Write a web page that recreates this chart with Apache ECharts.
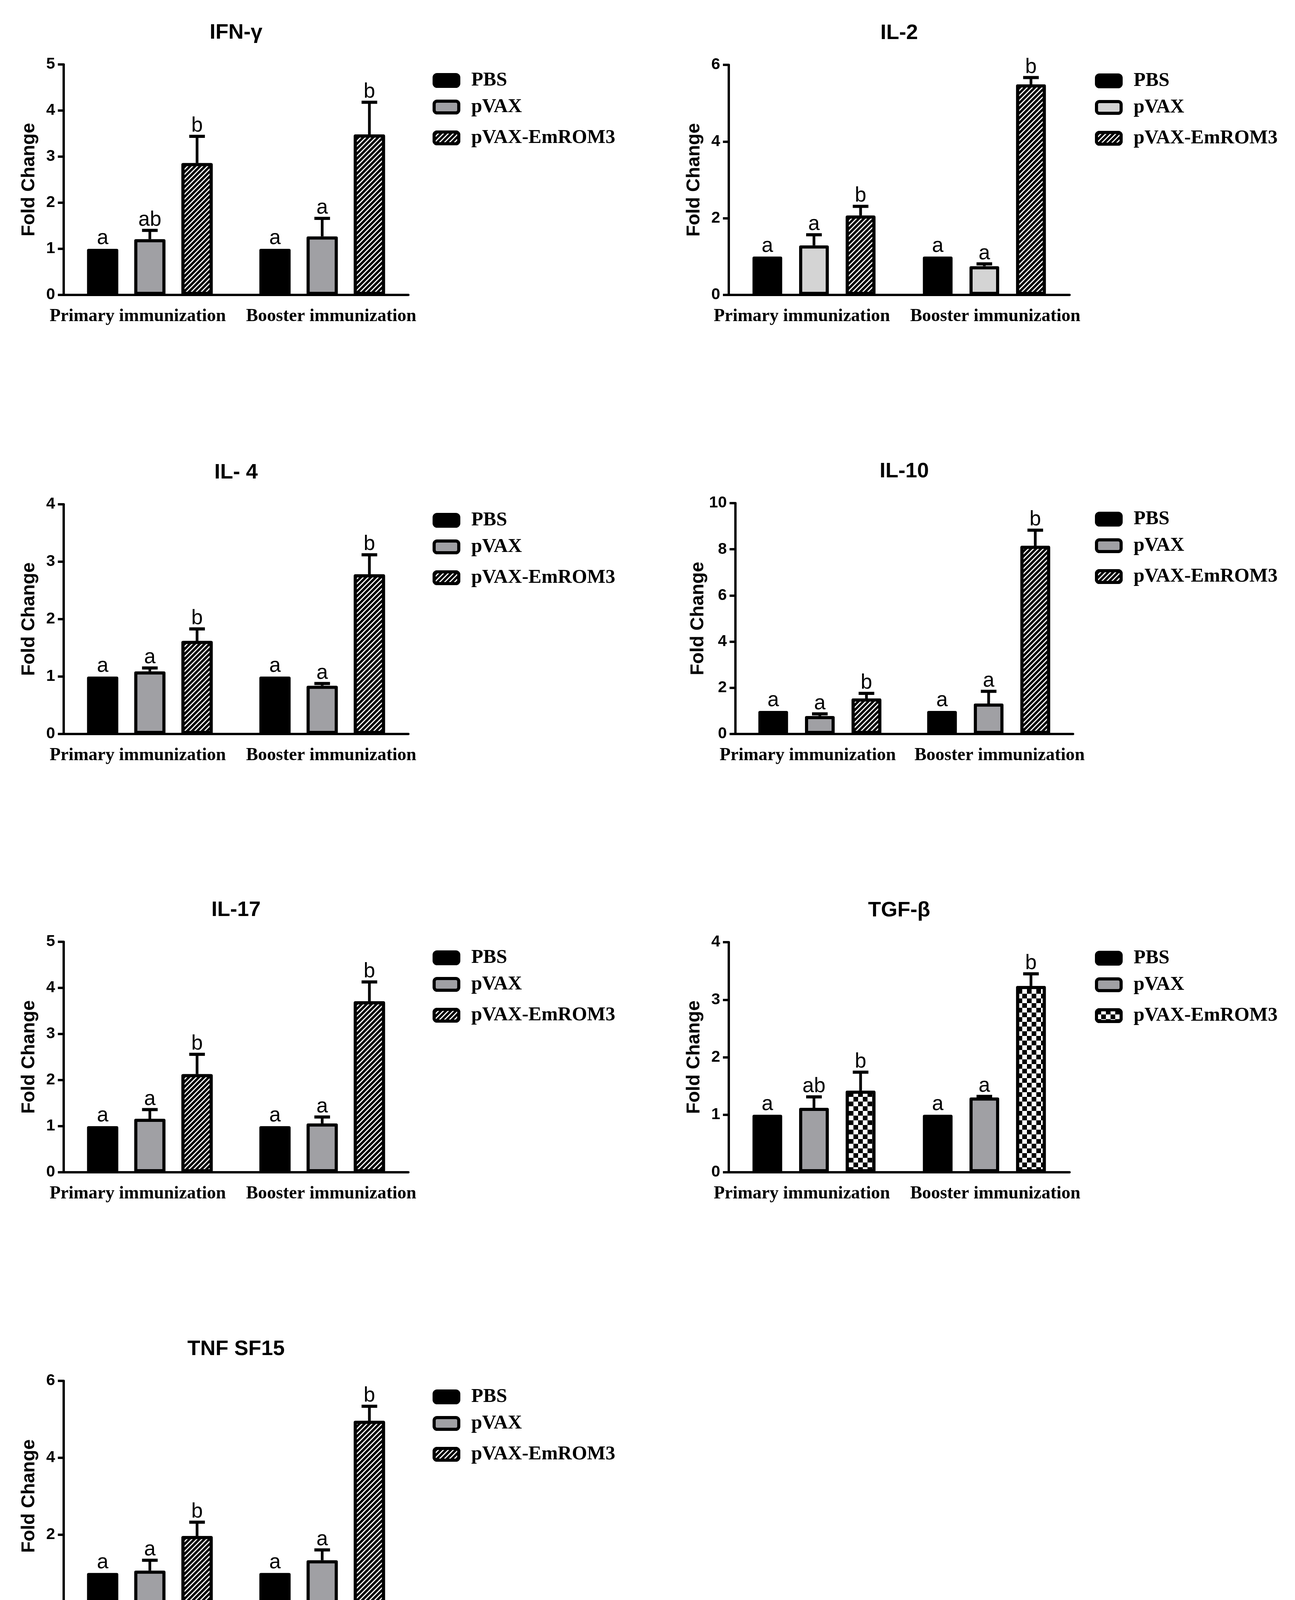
<!DOCTYPE html>
<html>
<head>
<meta charset="utf-8">
<title>Cytokine fold change</title>
<script src="https://cdn.jsdelivr.net/npm/echarts@6/dist/echarts.min.js"></script>
<style>
html, body { margin: 0; padding: 0; background: #fff; }
#main { width: 3314px; height: 4405px; }
</style>
</head>
<body>
<div id="main"></div>
<script>
// categories and groups
var groups = ['Primary immunization', 'Booster immunization'];
var treatments = ['PBS', 'pVAX', 'pVAX-EmROM3'];
var panelTitles = ['IFN-γ', 'IL-2', 'IL- 4', 'IL-10', 'IL-17', 'TGF-β', 'TNF SF15'];

// y axis max and tick step per panel
var yMax = [5, 6, 4, 10, 5, 4, 6];
var yStep = [1, 2, 1, 2, 1, 1, 2];

// mean fold change, [treatment][primary, booster]
var ifnMean = [[1.0, 1.0], [1.21, 1.27], [2.86, 3.48]];
var il2Mean = [[1.0, 1.0], [1.29, 0.75], [2.07, 5.49]];
var il4Mean = [[1.0, 1.0], [1.09, 0.84], [1.62, 2.78]];
var il10Mean = [[1.0, 1.0], [0.78, 1.32], [1.54, 8.15]];
var il17Mean = [[1.0, 1.0], [1.16, 1.06], [2.13, 3.71]];
var tgfMean = [[1.0, 1.0], [1.12, 1.30], [1.42, 3.24]];
var tnfMean = [[1.0, 1.0], [1.06, 1.33], [1.96, 4.96]];

// upper error (SD), same layout
var ifnErr = [[0, 0], [0.19, 0.39], [0.58, 0.70]];
var il2Err = [[0, 0], [0.28, 0.06], [0.24, 0.18]];
var il4Err = [[0, 0], [0.06, 0.04], [0.21, 0.34]];
var il10Err = [[0, 0], [0.09, 0.53], [0.22, 0.68]];
var il17Err = [[0, 0], [0.20, 0.14], [0.43, 0.42]];
var tgfErr = [[0, 0], [0.19, 0.02], [0.32, 0.21]];
var tnfErr = [[0, 0], [0.27, 0.27], [0.36, 0.38]];

// significance letters
var ifnLetters = [['a', 'a'], ['ab', 'a'], ['b', 'b']];
var il2Letters = [['a', 'a'], ['a', 'a'], ['b', 'b']];
var il4Letters = [['a', 'a'], ['a', 'a'], ['b', 'b']];
var il10Letters = [['a', 'a'], ['a', 'a'], ['b', 'b']];
var il17Letters = [['a', 'a'], ['a', 'a'], ['b', 'b']];
var tgfLetters = [['a', 'a'], ['ab', 'a'], ['b', 'b']];
var tnfLetters = [['a', 'a'], ['a', 'a'], ['b', 'b']];

var means = [ifnMean, il2Mean, il4Mean, il10Mean, il17Mean, tgfMean, tnfMean];
var errs = [ifnErr, il2Err, il4Err, il10Err, il17Err, tgfErr, tnfErr];
var letters = [ifnLetters, il2Letters, il4Letters, il10Letters, il17Letters, tgfLetters, tnfLetters];

// layout of each small plot: [left, top, width, height]
var boxes = [
    [163, 165, 882, 590],
    [1865, 166, 872, 589],
    [163, 1291, 882, 588],
    [1882, 1288, 864, 591],
    [163, 2411, 882, 590],
    [1865, 2412, 872, 589],
    [163, 3535, 882, 590]
];
var legendRowY = [41, 109, 188];

var hatch = {
    symbol: 'rect', symbolSize: 1, color: '#fff',
    dashArrayX: [1, 0], dashArrayY: [3, 6], rotation: -Math.PI / 4
};
var checker = {
    symbol: 'rect', symbolSize: 1, color: '#fff',
    dashArrayX: [[12, 12], [0, 12, 12, 0]], dashArrayY: [12, 0]
};

function fillOf(p, t) {
    if (t === 0) return '#000';
    if (t === 1) return p === 1 ? '#d4d4d4' : '#a0a0a4';
    return '#000';
}
function decalOf(p, t) {
    if (t !== 2) return null;
    return p === 5 ? checker : hatch;
}

// error bar + letter drawn on top of each bar
function makeErrorBar(p, pitch) {
    return function (params, api) {
        var g = api.value(0);
        var t = api.value(1);
        var low = api.coord([g, api.value(2)]);
        var high = api.coord([g, api.value(3)]);
        var x = low[0] + (t - 1) * pitch;
        var children = [];
        if (low[1] - high[1] > 1) {
            children.push({
                type: 'line',
                shape: { x1: x, y1: low[1], x2: x, y2: high[1] },
                style: { stroke: '#000', lineWidth: 7 }
            });
            children.push({
                type: 'line',
                shape: { x1: x - 20, y1: high[1], x2: x + 20, y2: high[1] },
                style: { stroke: '#000', lineWidth: 8 }
            });
        }
        children.push({
            type: 'text',
            x: x,
            y: high[1],
            style: {
                text: letters[p][t][g],
                align: 'center',
                verticalAlign: 'bottom',
                font: '53px "Liberation Sans"',
                fill: '#000'
            }
        });
        return { type: 'group', children: children };
    };
}

var grids = [], xAxes = [], yAxes = [], series = [], titles = [], legends = [];

for (var p = 0; p < panelTitles.length; p++) {
    var b = boxes[p];
    var rightCol = b[0] > 1000;
    var barW = rightCol ? 76 : 80;
    var gapRatio = rightCol ? 0.57 : 0.51;
    var pitch = barW * (1 + gapRatio);

    grids.push({ left: b[0], top: b[1], width: b[2], height: b[3] });

    titles.push({
        text: panelTitles[p],
        left: b[0] + b[2] / 2,
        top: b[1] - 108,
        textAlign: 'center',
        padding: 0,
        textStyle: { fontFamily: 'Liberation Sans', fontWeight: 'bold', fontSize: 54, color: '#000' }
    });

    xAxes.push({
        type: 'category',
        gridIndex: p,
        data: [
            { value: groups[0], textStyle: { padding: [0, 62, 0, 0] } },
            { value: groups[1], textStyle: { padding: [0, 0, 0, rightCol ? 56 : 46] } }
        ],
        axisLine: { lineStyle: { color: '#000', width: 6 } },
        axisTick: { alignWithLabel: true, length: 17, lineStyle: { color: '#000', width: 6 } },
        axisLabel: {
            interval: 0, margin: 32, color: '#000',
            fontFamily: 'Liberation Serif', fontWeight: 'bold', fontSize: 46
        },
        splitLine: { show: false }
    });

    yAxes.push({
        type: 'value',
        gridIndex: p,
        min: 0,
        max: yMax[p],
        interval: yStep[p],
        name: 'Fold Change',
        nameLocation: 'middle',
        nameGap: 64,
        nameTextStyle: { fontFamily: 'Liberation Sans', fontWeight: 'bold', fontSize: 48, color: '#000' },
        axisLine: { show: true, lineStyle: { color: '#000', width: 6 } },
        axisTick: { show: true, length: 15, lineStyle: { color: '#000', width: 6 } },
        axisLabel: {
            margin: 22, color: '#000',
            fontFamily: 'Liberation Sans', fontWeight: 'bold', fontSize: 41
        },
        splitLine: { show: false }
    });

    var errData = [];
    for (var t = 0; t < treatments.length; t++) {
        var style = { color: fillOf(p, t), borderColor: '#000', borderWidth: 8, borderJoin: 'round' };
        if (decalOf(p, t)) style.decal = decalOf(p, t);
        series.push({
            type: 'bar',
            name: treatments[t],
            xAxisIndex: p,
            yAxisIndex: p,
            data: means[p][t],
            barWidth: barW,
            barGap: (gapRatio * 100) + '%',
            itemStyle: style,
            silent: true
        });
        for (var g = 0; g < groups.length; g++) {
            errData.push([g, t, means[p][t][g], means[p][t][g] + errs[p][t][g]]);
        }

        var legendStyle = { color: fillOf(p, t), borderColor: '#000', borderWidth: 8 };
        legendStyle.decal = decalOf(p, t) || 'none';
        legends.push({
            left: rightCol ? 2802 : 1107,
            top: b[1] + legendRowY[t] - 25,
            padding: 0,
            selectedMode: false,
            icon: 'roundRect',
            itemWidth: 63,
            itemHeight: 30,
            data: [{ name: treatments[t], itemStyle: legendStyle }],
            textStyle: {
                fontFamily: 'Liberation Serif', fontWeight: 'bold', fontSize: 50,
                lineHeight: 50, color: '#000', padding: [0, 0, 0, 27]
            }
        });
    }

    series.push({
        type: 'custom',
        xAxisIndex: p,
        yAxisIndex: p,
        z: 5,
        silent: true,
        data: errData,
        encode: { x: 0, y: 3 },
        renderItem: makeErrorBar(p, pitch)
    });
}

var chart = echarts.init(document.getElementById('main'));
chart.setOption({
    backgroundColor: '#fff',
    animation: false,
    title: titles,
    legend: legends,
    grid: grids,
    xAxis: xAxes,
    yAxis: yAxes,
    series: series
});
</script>
</body>
</html>
